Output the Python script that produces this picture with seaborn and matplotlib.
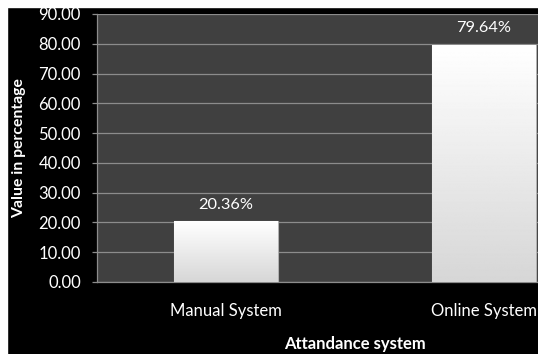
import numpy as np
import pandas as pd
import matplotlib
matplotlib.use('Agg')
import matplotlib.pyplot as plt
from matplotlib.patches import Rectangle
import seaborn as sns

systems = ['Manual System', 'Online System']
percent = [20.36, 79.64]
yticks = [0, 10, 20, 30, 40, 50, 60, 70, 80, 90]

df = pd.DataFrame({'system': systems, 'value': percent})

sns.set_style('dark')
plt.rcParams['font.family'] = ['Lato', 'DejaVu Sans']

fig = plt.figure(figsize=(5.38, 3.54), dpi=100, facecolor='black')
# white strip at top and left like the cropped screenshot
fig.patches.append(Rectangle((0, 0), 7 / 538, 1, transform=fig.transFigure, color='white', zorder=0))
fig.patches.append(Rectangle((0, 1 - 7 / 354), 1, 7 / 354, transform=fig.transFigure, color='white', zorder=0))

# axes runs past the right edge, as in the original
ax = fig.add_axes([97 / 538, 1 - 282 / 354, 516 / 538, 268 / 354])
ax.set_facecolor('#404040')

sns.barplot(data=df, x='system', y='value', color='white', width=0.4,
            edgecolor='#b0b0b0', linewidth=0.8, saturation=1, ax=ax, zorder=3)

# soft vertical gradient on the bars
grad = np.linspace(0.84, 1.0, 256).reshape(-1, 1)
for p in ax.patches:
    x0, y0 = p.get_x(), p.get_y()
    w, h = p.get_width(), p.get_height()
    im = ax.imshow(grad, cmap='gray', vmin=0, vmax=1, aspect='auto',
                   extent=[x0, x0 + w, y0, y0 + h], origin='lower', zorder=3.5)
    im.set_clip_path(p)

for i, v in enumerate(percent):
    ax.text(i, v + 5.6, f'{v:.2f}%', ha='center', va='center', color='white', fontsize=11.8)

ax.set_xlim(-0.5, 1.5)
ax.set_ylim(0, 90)
ax.set_yticks(yticks)
ax.set_yticklabels([f'{t:.2f}' for t in yticks])
ax.grid(axis='y', color='#8c8c8c', linewidth=0.9)
ax.grid(axis='x', visible=False)
ax.set_axisbelow(True)

for s in ['top', 'right']:
    ax.spines[s].set_visible(False)
for s in ['left', 'bottom']:
    ax.spines[s].set_visible(True)
    ax.spines[s].set_color('#8c8c8c')
    ax.spines[s].set_linewidth(0.9)

ax.tick_params(axis='y', colors='#8c8c8c', labelcolor='white', labelsize=12,
               length=3.6, width=0.9, direction='out', left=True, pad=8)
ax.tick_params(axis='x', labelcolor='white', labelsize=12, length=0, pad=15)

ax.set_xlabel('Attandance system', color='white', fontsize=12, fontweight='bold', labelpad=12)
ax.set_ylabel('Value in percentage', color='white', fontsize=11.3, fontweight='bold')
ax.yaxis.set_label_coords(-0.137, 0.5)

fig.savefig('out.png', dpi=100, facecolor=fig.get_facecolor())
